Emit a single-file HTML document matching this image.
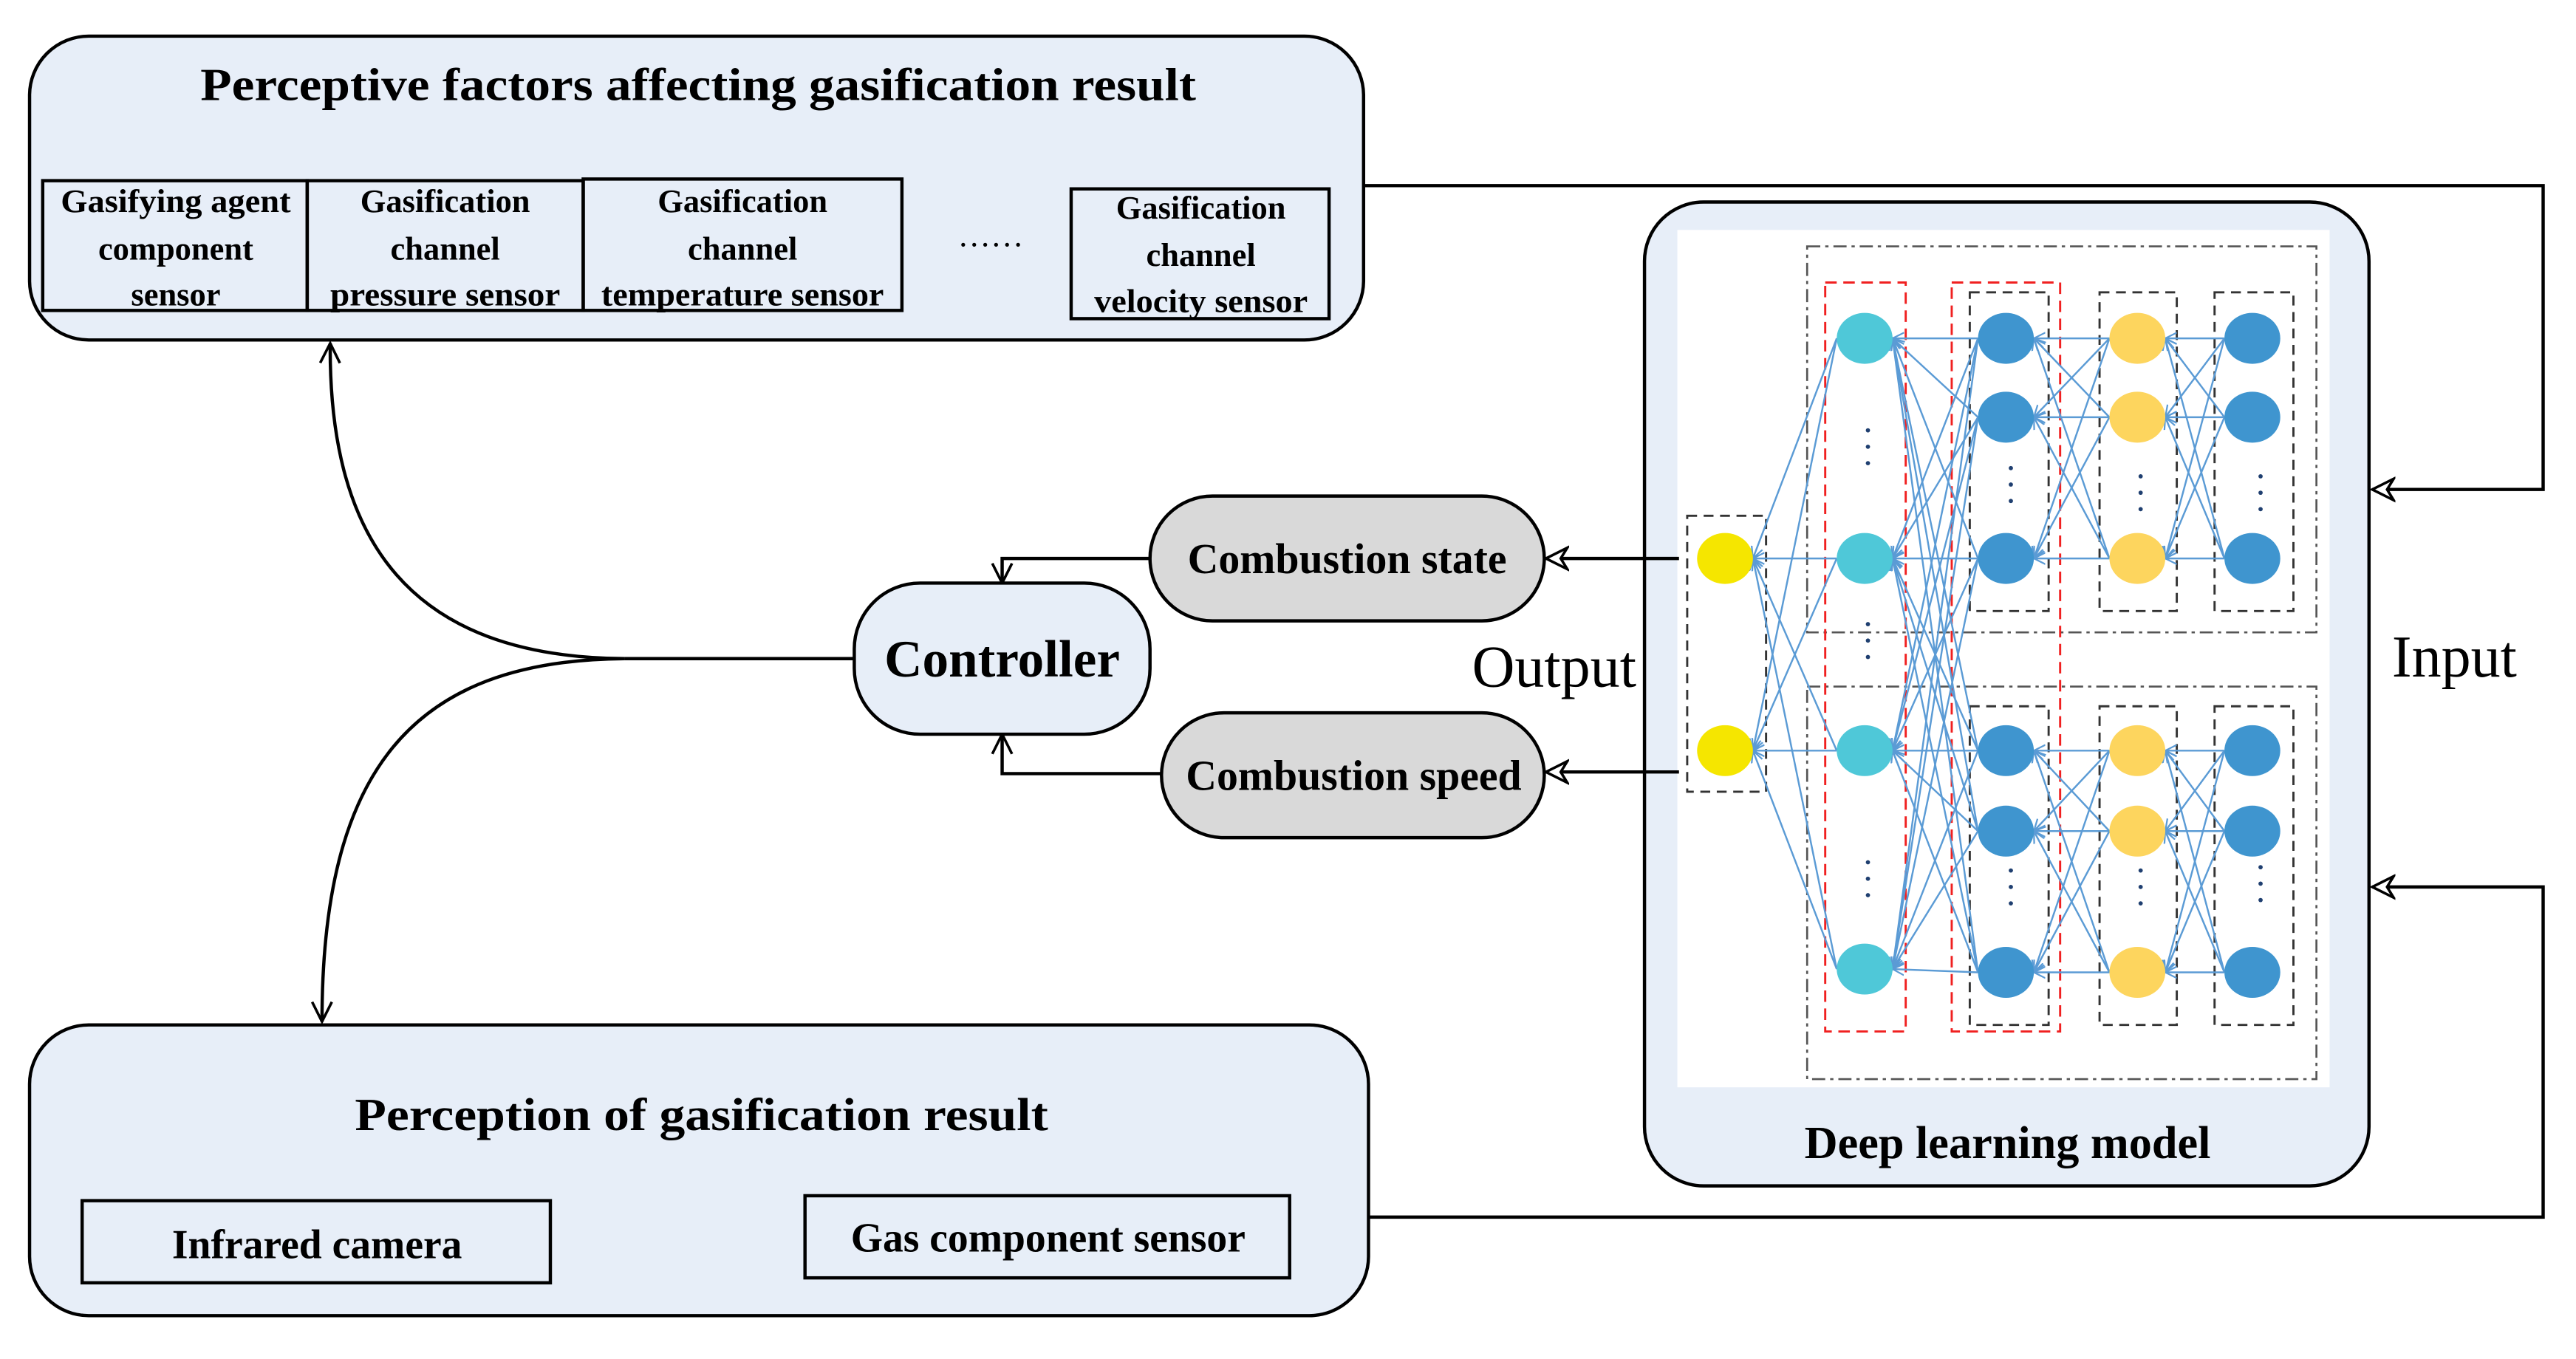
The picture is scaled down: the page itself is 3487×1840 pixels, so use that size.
<!DOCTYPE html>
<html><head><meta charset="utf-8"><style>html,body{margin:0;padding:0;background:#fff}svg{display:block}</style></head>
<body>
<svg width="3487" height="1840" viewBox="0 0 1568 827.4" preserveAspectRatio="none" xmlns="http://www.w3.org/2000/svg" font-family="'Liberation Serif',serif">
<defs>
<marker id="ob" markerWidth="16" markerHeight="16" refX="14" refY="8" orient="auto" markerUnits="userSpaceOnUse"><path d="M1,1.5 L14,8 L1,14.5 L5,8 Z" fill="#fff" stroke="#000" stroke-width="1.6"/></marker>
<marker id="ab" markerWidth="14" markerHeight="14" refX="13" refY="7" orient="auto" markerUnits="userSpaceOnUse"><path d="M1,1 L13,7 L1,13" fill="none" stroke="#000" stroke-width="1.6"/></marker>
<marker id="nb" markerWidth="8" markerHeight="8" refX="7" refY="4" orient="auto" markerUnits="userSpaceOnUse"><path d="M0,0.5 L7,4 L0,7.5" fill="none" stroke="#5b9bd5" stroke-width="1"/></marker>
</defs>

<rect x="18" y="22" width="812" height="185" rx="36" fill="#e7eef8" stroke="#000" stroke-width="2"/>
<text x="425" y="61" text-anchor="middle" font-size="28" font-weight="bold" textLength="606" lengthAdjust="spacingAndGlyphs">Perceptive factors affecting gasification result</text>
<g fill="none" stroke="#000" stroke-width="2">
<rect x="26" y="110" width="161" height="79"/>
<rect x="187" y="110" width="168" height="79"/>
<rect x="355" y="109" width="194" height="80"/>
<rect x="652" y="115" width="157" height="79"/>
</g>
<g font-size="20" font-weight="bold" text-anchor="middle">
<text x="107" y="129" textLength="140" lengthAdjust="spacingAndGlyphs">Gasifying agent</text><text x="107" y="158">component</text><text x="107" y="186">sensor</text>
<text x="271" y="129">Gasification</text><text x="271" y="158">channel</text><text x="271" y="186" textLength="140" lengthAdjust="spacingAndGlyphs">pressure sensor</text>
<text x="452" y="129">Gasification</text><text x="452" y="158">channel</text><text x="452" y="186" textLength="172" lengthAdjust="spacingAndGlyphs">temperature sensor</text>
<text x="731" y="133">Gasification</text><text x="731" y="162">channel</text><text x="731" y="190" textLength="130" lengthAdjust="spacingAndGlyphs">velocity sensor</text>
</g>
<text x="603" y="150" font-size="20" text-anchor="middle">……</text>

<rect x="18" y="624" width="815" height="177" rx="36" fill="#e7eef8" stroke="#000" stroke-width="2"/>
<text x="427" y="688" text-anchor="middle" font-size="28" font-weight="bold" textLength="422" lengthAdjust="spacingAndGlyphs">Perception of gasification result</text>
<rect x="50" y="731" width="285" height="50" fill="none" stroke="#000" stroke-width="2"/>
<rect x="490" y="728" width="295" height="50" fill="none" stroke="#000" stroke-width="2"/>
<text x="193" y="766" text-anchor="middle" font-size="25" font-weight="bold">Infrared camera</text>
<text x="638" y="762" text-anchor="middle" font-size="25" font-weight="bold">Gas component sensor</text>

<path d="M830,113 H1548 V298 H1444" fill="none" stroke="#000" stroke-width="2" marker-end="url(#ob)"/>
<path d="M833,741 H1548 V540 H1444" fill="none" stroke="#000" stroke-width="2" marker-end="url(#ob)"/>
<text x="1494" y="412" text-anchor="middle" font-size="36">Input</text>

<rect x="1001" y="123" width="441" height="599" rx="36" fill="#e7eef8" stroke="#000" stroke-width="2"/>
<rect x="1021" y="140" width="397" height="522" fill="#fff"/>
<text x="1222" y="705" text-anchor="middle" font-size="28" font-weight="bold">Deep learning model</text>

<g fill="none" stroke="#555" stroke-width="1.2" stroke-dasharray="8,3,2,3">
<rect x="1100" y="150" width="310" height="235"/>
<rect x="1100" y="418" width="310" height="239"/>
</g>
<g fill="none" stroke="#333" stroke-width="1.3" stroke-dasharray="6,4">
<rect x="1027" y="314" width="48" height="168"/>
<rect x="1199" y="178" width="48" height="194"/>
<rect x="1199" y="430" width="48" height="194"/>
<rect x="1278" y="178" width="47" height="194"/>
<rect x="1278" y="430" width="47" height="194"/>
<rect x="1348" y="178" width="48" height="194"/>
<rect x="1348" y="430" width="48" height="194"/>
</g>
<g fill="none" stroke="#f02020" stroke-width="1.3" stroke-dasharray="7,4">
<rect x="1111" y="172" width="49" height="456"/>
<rect x="1188" y="172" width="66" height="456"/>
</g>

<g stroke="#5b9bd5" stroke-width="1.1" marker-end="url(#nb)">
<line x1="1118" y1="206" x2="1067" y2="340"/><line x1="1118" y1="340" x2="1067" y2="340"/><line x1="1118" y1="457" x2="1067" y2="340"/><line x1="1118" y1="590" x2="1067" y2="340"/>
<line x1="1118" y1="206" x2="1067" y2="457"/><line x1="1118" y1="340" x2="1067" y2="457"/><line x1="1118" y1="457" x2="1067" y2="457"/><line x1="1118" y1="590" x2="1067" y2="457"/>
<line x1="1204" y1="206" x2="1152" y2="206"/><line x1="1204" y1="254" x2="1152" y2="206"/><line x1="1204" y1="340" x2="1152" y2="206"/><line x1="1204" y1="457" x2="1152" y2="206"/><line x1="1204" y1="506" x2="1152" y2="206"/><line x1="1204" y1="592" x2="1152" y2="206"/>
<line x1="1204" y1="206" x2="1152" y2="340"/><line x1="1204" y1="254" x2="1152" y2="340"/><line x1="1204" y1="340" x2="1152" y2="340"/><line x1="1204" y1="457" x2="1152" y2="340"/><line x1="1204" y1="506" x2="1152" y2="340"/><line x1="1204" y1="592" x2="1152" y2="340"/>
<line x1="1204" y1="206" x2="1152" y2="457"/><line x1="1204" y1="254" x2="1152" y2="457"/><line x1="1204" y1="340" x2="1152" y2="457"/><line x1="1204" y1="457" x2="1152" y2="457"/><line x1="1204" y1="506" x2="1152" y2="457"/><line x1="1204" y1="592" x2="1152" y2="457"/>
<line x1="1204" y1="206" x2="1152" y2="590"/><line x1="1204" y1="254" x2="1152" y2="590"/><line x1="1204" y1="340" x2="1152" y2="590"/><line x1="1204" y1="457" x2="1152" y2="590"/><line x1="1204" y1="506" x2="1152" y2="590"/><line x1="1204" y1="592" x2="1152" y2="590"/>
<line x1="1284" y1="206" x2="1238" y2="206"/><line x1="1284" y1="254" x2="1238" y2="206"/><line x1="1284" y1="340" x2="1238" y2="206"/>
<line x1="1284" y1="206" x2="1238" y2="254"/><line x1="1284" y1="254" x2="1238" y2="254"/><line x1="1284" y1="340" x2="1238" y2="254"/>
<line x1="1284" y1="206" x2="1238" y2="340"/><line x1="1284" y1="254" x2="1238" y2="340"/><line x1="1284" y1="340" x2="1238" y2="340"/>
<line x1="1284" y1="457" x2="1238" y2="457"/><line x1="1284" y1="506" x2="1238" y2="457"/><line x1="1284" y1="592" x2="1238" y2="457"/>
<line x1="1284" y1="457" x2="1238" y2="506"/><line x1="1284" y1="506" x2="1238" y2="506"/><line x1="1284" y1="592" x2="1238" y2="506"/>
<line x1="1284" y1="457" x2="1238" y2="592"/><line x1="1284" y1="506" x2="1238" y2="592"/><line x1="1284" y1="592" x2="1238" y2="592"/>
<line x1="1354" y1="206" x2="1318" y2="206"/><line x1="1354" y1="254" x2="1318" y2="206"/><line x1="1354" y1="340" x2="1318" y2="206"/>
<line x1="1354" y1="206" x2="1318" y2="254"/><line x1="1354" y1="254" x2="1318" y2="254"/><line x1="1354" y1="340" x2="1318" y2="254"/>
<line x1="1354" y1="206" x2="1318" y2="340"/><line x1="1354" y1="254" x2="1318" y2="340"/><line x1="1354" y1="340" x2="1318" y2="340"/>
<line x1="1354" y1="457" x2="1318" y2="457"/><line x1="1354" y1="506" x2="1318" y2="457"/><line x1="1354" y1="592" x2="1318" y2="457"/>
<line x1="1354" y1="457" x2="1318" y2="506"/><line x1="1354" y1="506" x2="1318" y2="506"/><line x1="1354" y1="592" x2="1318" y2="506"/>
<line x1="1354" y1="457" x2="1318" y2="592"/><line x1="1354" y1="506" x2="1318" y2="592"/><line x1="1354" y1="592" x2="1318" y2="592"/>
</g>

<g>
<ellipse cx="1050" cy="340" rx="17" ry="15.5" fill="#f5e600"/><ellipse cx="1050" cy="457" rx="17" ry="15.5" fill="#f5e600"/>
<g fill="#4fc8d8"><ellipse cx="1135" cy="206" rx="17" ry="15.5"/><ellipse cx="1135" cy="340" rx="17" ry="15.5"/><ellipse cx="1135" cy="457" rx="17" ry="15.5"/><ellipse cx="1135" cy="590" rx="17" ry="15.5"/></g>
<g fill="#3f95cf"><ellipse cx="1221" cy="206" rx="17" ry="15.5"/><ellipse cx="1221" cy="254" rx="17" ry="15.5"/><ellipse cx="1221" cy="340" rx="17" ry="15.5"/><ellipse cx="1221" cy="457" rx="17" ry="15.5"/><ellipse cx="1221" cy="506" rx="17" ry="15.5"/><ellipse cx="1221" cy="592" rx="17" ry="15.5"/>
<ellipse cx="1371" cy="206" rx="17" ry="15.5"/><ellipse cx="1371" cy="254" rx="17" ry="15.5"/><ellipse cx="1371" cy="340" rx="17" ry="15.5"/><ellipse cx="1371" cy="457" rx="17" ry="15.5"/><ellipse cx="1371" cy="506" rx="17" ry="15.5"/><ellipse cx="1371" cy="592" rx="17" ry="15.5"/></g>
<g fill="#fdd55e"><ellipse cx="1301" cy="206" rx="17" ry="15.5"/><ellipse cx="1301" cy="254" rx="17" ry="15.5"/><ellipse cx="1301" cy="340" rx="17" ry="15.5"/><ellipse cx="1301" cy="457" rx="17" ry="15.5"/><ellipse cx="1301" cy="506" rx="17" ry="15.5"/><ellipse cx="1301" cy="592" rx="17" ry="15.5"/></g>
</g>
<g fill="#1f3f70">
<circle cx="1137" cy="262" r="1.3"/><circle cx="1137" cy="272" r="1.3"/><circle cx="1137" cy="282" r="1.3"/>
<circle cx="1137" cy="380" r="1.3"/><circle cx="1137" cy="390" r="1.3"/><circle cx="1137" cy="400" r="1.3"/>
<circle cx="1137" cy="525" r="1.3"/><circle cx="1137" cy="535" r="1.3"/><circle cx="1137" cy="545" r="1.3"/>
<circle cx="1224" cy="285" r="1.3"/><circle cx="1224" cy="295" r="1.3"/><circle cx="1224" cy="305" r="1.3"/>
<circle cx="1224" cy="530" r="1.3"/><circle cx="1224" cy="540" r="1.3"/><circle cx="1224" cy="550" r="1.3"/>
<circle cx="1303" cy="290" r="1.3"/><circle cx="1303" cy="300" r="1.3"/><circle cx="1303" cy="310" r="1.3"/>
<circle cx="1303" cy="530" r="1.3"/><circle cx="1303" cy="540" r="1.3"/><circle cx="1303" cy="550" r="1.3"/>
<circle cx="1376" cy="290" r="1.3"/><circle cx="1376" cy="300" r="1.3"/><circle cx="1376" cy="310" r="1.3"/>
<circle cx="1376" cy="528" r="1.3"/><circle cx="1376" cy="538" r="1.3"/><circle cx="1376" cy="548" r="1.3"/>
</g>

<rect x="700" y="302" width="240" height="76" rx="38" fill="#d9d9d9" stroke="#000" stroke-width="2"/>
<rect x="707" y="434" width="233" height="76" rx="38" fill="#d9d9d9" stroke="#000" stroke-width="2"/>
<text x="820" y="349" text-anchor="middle" font-size="26" font-weight="bold">Combustion state</text>
<text x="824" y="481" text-anchor="middle" font-size="26" font-weight="bold">Combustion speed</text>
<path d="M1022,340 H941" fill="none" stroke="#000" stroke-width="2" marker-end="url(#ob)"/>
<path d="M1022,470 H941" fill="none" stroke="#000" stroke-width="2" marker-end="url(#ob)"/>
<text x="946" y="418" text-anchor="middle" font-size="36">Output</text>

<rect x="520" y="355" width="180" height="92" rx="40" fill="#e7eef8" stroke="#000" stroke-width="2"/>
<text x="610" y="412" text-anchor="middle" font-size="32" font-weight="bold">Controller</text>
<path d="M700,340 H610 V355" fill="none" stroke="#000" stroke-width="2" marker-end="url(#ab)"/>
<path d="M707,471 H610 V447" fill="none" stroke="#000" stroke-width="2" marker-end="url(#ab)"/>

<path d="M520,401 H380" fill="none" stroke="#000" stroke-width="2"/>
<path d="M380,401 C250,400 200,330 201,209" fill="none" stroke="#000" stroke-width="2" marker-end="url(#ab)"/>
<path d="M380,401 C250,402 196,470 196,622" fill="none" stroke="#000" stroke-width="2" marker-end="url(#ab)"/>
</svg>
</body></html>
